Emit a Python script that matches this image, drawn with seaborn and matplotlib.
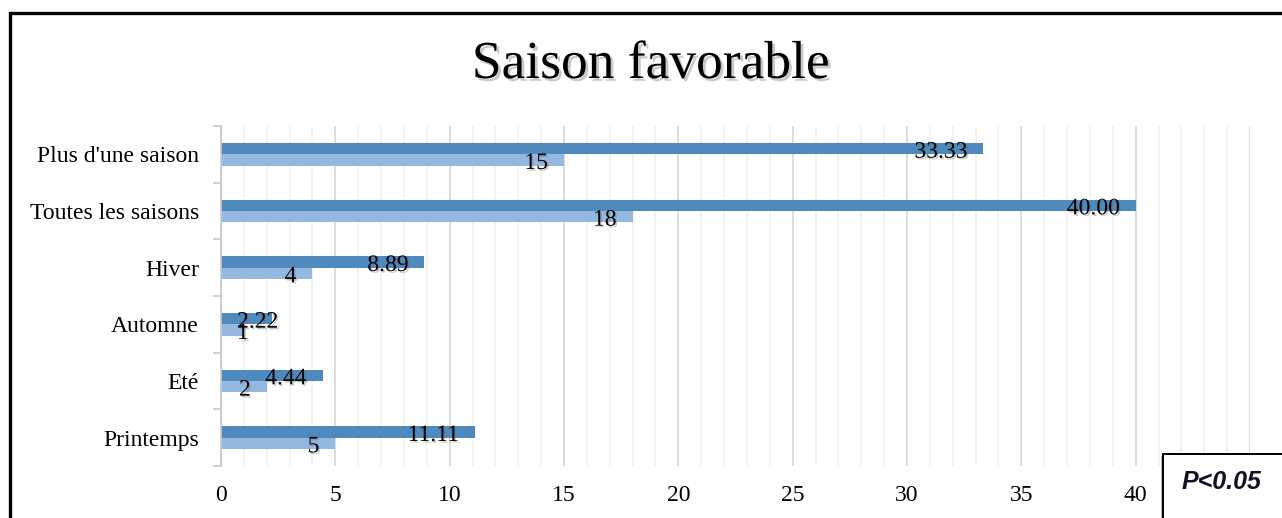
import matplotlib
matplotlib.use("Agg")
import matplotlib.pyplot as plt
import matplotlib.patheffects as pe
from matplotlib.patches import Rectangle
from matplotlib.ticker import MultipleLocator, FixedLocator
import numpy as np
import pandas as pd
import seaborn as sns

# Data
saisons = ["Plus d'une saison", "Toutes les saisons", "Hiver", "Automne", "Eté", "Printemps"]
pourcentage = [33.33, 40.00, 8.89, 2.22, 4.44, 11.11]
effectif = [15, 18, 4, 1, 2, 5]
series = ["Pourcentage", "Effectif"]
couleurs = ["#4F89BD", "#95B8E0"]
titre = "Saison favorable"
note = "P<0.05"

df = pd.DataFrame({
    "saison": saisons * 2,
    "valeur": pourcentage + effectif,
    "serie": [series[0]] * len(saisons) + [series[1]] * len(saisons),
})

sns.set_theme(style="white")
plt.rcParams["font.family"] = ["Liberation Serif", "DejaVu Serif"]

W, H = 1282, 518
fig = plt.figure(figsize=(W / 100, H / 100), dpi=100)
fig.patch.set_facecolor("white")
ax = fig.add_axes([221 / W, 1 - 466 / H, (1250 - 221) / W, (466 - 126) / H])

sns.barplot(data=df, y="saison", x="valeur", hue="serie", order=saisons,
            hue_order=series, palette=couleurs, orient="h", width=0.4,
            dodge=True, saturation=1, ax=ax, legend=False, errorbar=None,
            linewidth=0, edgecolor="none")

ax.set_xlim(0, 45)
ax.set_ylim(len(saisons) - 0.5, -0.5)
ax.set_xlabel("")
ax.set_ylabel("")

# grid: major every 5, minor every 1
ax.xaxis.set_major_locator(MultipleLocator(5))
ax.xaxis.set_minor_locator(MultipleLocator(1))
ax.grid(axis="x", which="major", color="#d9d9d9", linewidth=1.3)
ax.grid(axis="x", which="minor", color="#efefef", linewidth=1.1)
ax.grid(axis="y", visible=False)
ax.set_axisbelow(True)

for s in ["top", "right", "bottom"]:
    ax.spines[s].set_visible(False)
ax.spines["left"].set_color("#c8c8c8")
ax.spines["left"].set_linewidth(1.2)

# category ticks between bands
ax.yaxis.set_minor_locator(FixedLocator(np.arange(-0.5, len(saisons), 1.0)))
ax.tick_params(axis="y", which="major", length=0, pad=16, labelsize=17, labelcolor="black")
ax.tick_params(axis="y", which="minor", length=6, width=1.2, color="#c8c8c8", left=True)
ax.tick_params(axis="x", which="both", length=0, pad=14, labelsize=17, labelcolor="black")
xt = np.arange(0, 46, 5)
ax.set_xticks(xt)
# the last tick sits under the significance box
ax.set_xticklabels([str(v) if v < 45 else "" for v in xt])

# value labels
shadow = [pe.withSimplePatchShadow(offset=(1.2, -1.2), shadow_rgbFace="0.4", alpha=0.35)]
anns = []
for k, cont in enumerate(ax.containers):
    for bar, val in zip(cont, cont.datavalues):
        yc = bar.get_y() + bar.get_height() / 2
        txt = f"{val:.2f}" if k == 0 else f"{val:.0f}"
        a = ax.annotate(txt, xy=(bar.get_width(), yc), xytext=(-16, -1),
                        textcoords="offset pixels", ha="right", va="center_baseline",
                        fontsize=17, color="black", path_effects=shadow, zorder=5)
        anns.append(a)

fig.canvas.draw()
x0_axes = ax.get_window_extent().x0
for a in anns:
    bb = a.get_window_extent()
    if bb.x0 < x0_axes + 15:
        a.xy = (0, a.xy[1])
        a.xyann = (16, -1)
        a.set_ha("left")

# title
fig.text(651 / W, 1 - 65 / H, titre, ha="center", va="center", fontsize=38.5,
         color="black", path_effects=[pe.withSimplePatchShadow(offset=(2, -2), shadow_rgbFace="0.4", alpha=0.35)])

# outer frame (left and top edges)
fig.patches.append(Rectangle((10 / W, -0.2), 1.5, 1 - 13 / H + 0.2, transform=fig.transFigure,
                             fill=False, edgecolor="black", linewidth=2.4, zorder=10))

# significance box
fig.patches.append(Rectangle((1163 / W, -0.05), 0.2, (518 - 454) / H + 0.05,
                             transform=fig.transFigure, facecolor="white", edgecolor="black",
                             linewidth=1.4, zorder=11,
                             path_effects=[pe.withSimplePatchShadow(offset=(-1.5, -1.5), shadow_rgbFace="0.5", alpha=0.5)]))
fig.text(1222 / W, 1 - 482 / H, note, ha="center", va="center", fontsize=18,
         fontweight="bold", fontstyle="italic", family=["Liberation Sans", "DejaVu Sans"],
         color="#111122", zorder=12)

fig.savefig("out.png", dpi=100, facecolor="white")
